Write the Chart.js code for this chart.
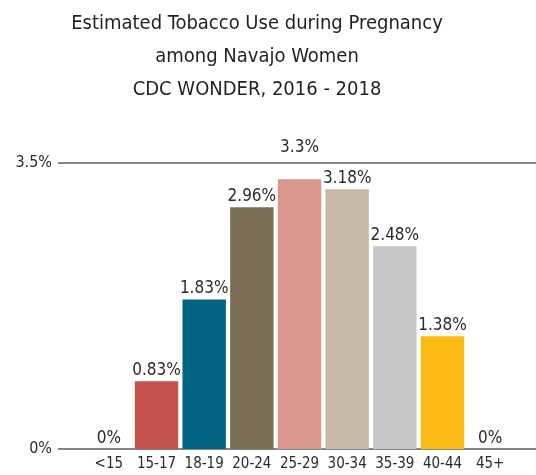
<!DOCTYPE html>
<html>
<head>
<meta charset="utf-8">
<script src="https://cdn.jsdelivr.net/npm/chart.js@4"></script>
<style>
  html, body { margin: 0; padding: 0; background: #fff; }
  canvas { display: block; }
</style>
</head>
<body>
<canvas id="tabacoChart" width="536" height="475"></canvas>
<script>
// Dados
const ageGroups = ['<15', '15-17', '18-19', '20-24', '25-29', '30-34', '35-39', '40-44', '45+'];
const tobaccoPct = [0, 0.83, 1.83, 2.96, 3.3, 3.18, 2.48, 1.38, 0];
const barColors = ['#9e9e9e', '#c5524f', '#006482', '#7a6e55', '#d9968a', '#c7b8a8', '#c5c6c8', '#fbba14', '#9e9e9e'];
const yTicks = [0, 3.5];
const titleLines = ['Estimated Tobacco Use during Pregnancy', 'among Navajo Women', 'CDC WONDER, 2016 - 2018'];

const FONT = "'DejaVu Sans Condensed', 'Liberation Sans Narrow', sans-serif";

// linhas horizontais de referência que passam da área do gráfico
const gridPlugin = {
    id: 'gridFull',
    beforeDatasetsDraw(chart) {
        const ctx = chart.ctx;
        const y = chart.scales.y;
        ctx.save();
        ctx.strokeStyle = '#858585';
        ctx.lineWidth = 2;
        y.ticks.forEach(t => {
            const py = Math.round(y.getPixelForValue(t.value));
            ctx.beginPath();
            ctx.moveTo(58, py);
            ctx.lineTo(chart.width, py);
            ctx.stroke();
        });
        ctx.restore();
    }
};

// rótulos de valor em cima das barras
const labelPlugin = {
    id: 'valueLabels',
    afterDatasetsDraw(chart) {
        const ctx = chart.ctx;
        const meta = chart.getDatasetMeta(0);
        const topY = chart.scales.y.getPixelForValue(yTicks[yTicks.length - 1]);
        ctx.save();
        ctx.font = '17px ' + FONT;
        ctx.fillStyle = '#2b2b2b';
        ctx.textAlign = 'center';
        ctx.textBaseline = 'alphabetic';
        meta.data.forEach((bar, i) => {
            let base = bar.y - 6;
            // se o texto cruzar a linha de 3.5%, sobe para cima dela
            if (base > topY && base - 14 < topY) base = topY - 11;
            ctx.fillText(tobaccoPct[i] + '%', bar.x, base);
        });
        ctx.restore();
    }
};

const ctx = document.getElementById('tabacoChart').getContext('2d');

new Chart(ctx, {
    type: 'bar',
    data: {
        labels: ageGroups,
        datasets: [{
            data: tobaccoPct,
            backgroundColor: barColors,
            borderWidth: 0,
            categoryPercentage: 1,
            barPercentage: 0.91
        }]
    },
    options: {
        responsive: false,
        animation: false,
        layout: { padding: { left: 0, right: 22, top: 0, bottom: 0 } },
        plugins: {
            legend: { display: false },
            tooltip: { enabled: false },
            title: {
                display: true,
                text: titleLines,
                color: '#231f20',
                font: { family: FONT, size: 20, weight: 'normal', lineHeight: 1.65 },
                padding: { top: 7, bottom: 57 }
            }
        },
        scales: {
            y: {
                min: 0,
                max: 3.5,
                afterBuildTicks(scale) { scale.ticks = yTicks.map(v => ({ value: v })); },
                afterFit(scale) {
                    scale.width = 85;
                    // o padding dos ticks não deve empurrar a área do gráfico
                    scale.paddingTop = 0;
                    scale.paddingBottom = 0;
                },
                border: { display: false },
                grid: { display: false, drawTicks: false },
                ticks: {
                    padding: 33,
                    color: '#2b2b2b',
                    font: { family: FONT, size: 16 },
                    callback: v => v + '%'
                }
            },
            x: {
                afterFit(scale) { scale.height = 26; },
                border: { display: false },
                grid: { display: false, drawTicks: false },
                ticks: {
                    padding: 6,
                    color: '#2b2b2b',
                    autoSkip: false,
                    maxRotation: 0,
                    font: { family: FONT, size: 15 }
                }
            }
        }
    },
    plugins: [gridPlugin, labelPlugin]
});
</script>
</body>
</html>
